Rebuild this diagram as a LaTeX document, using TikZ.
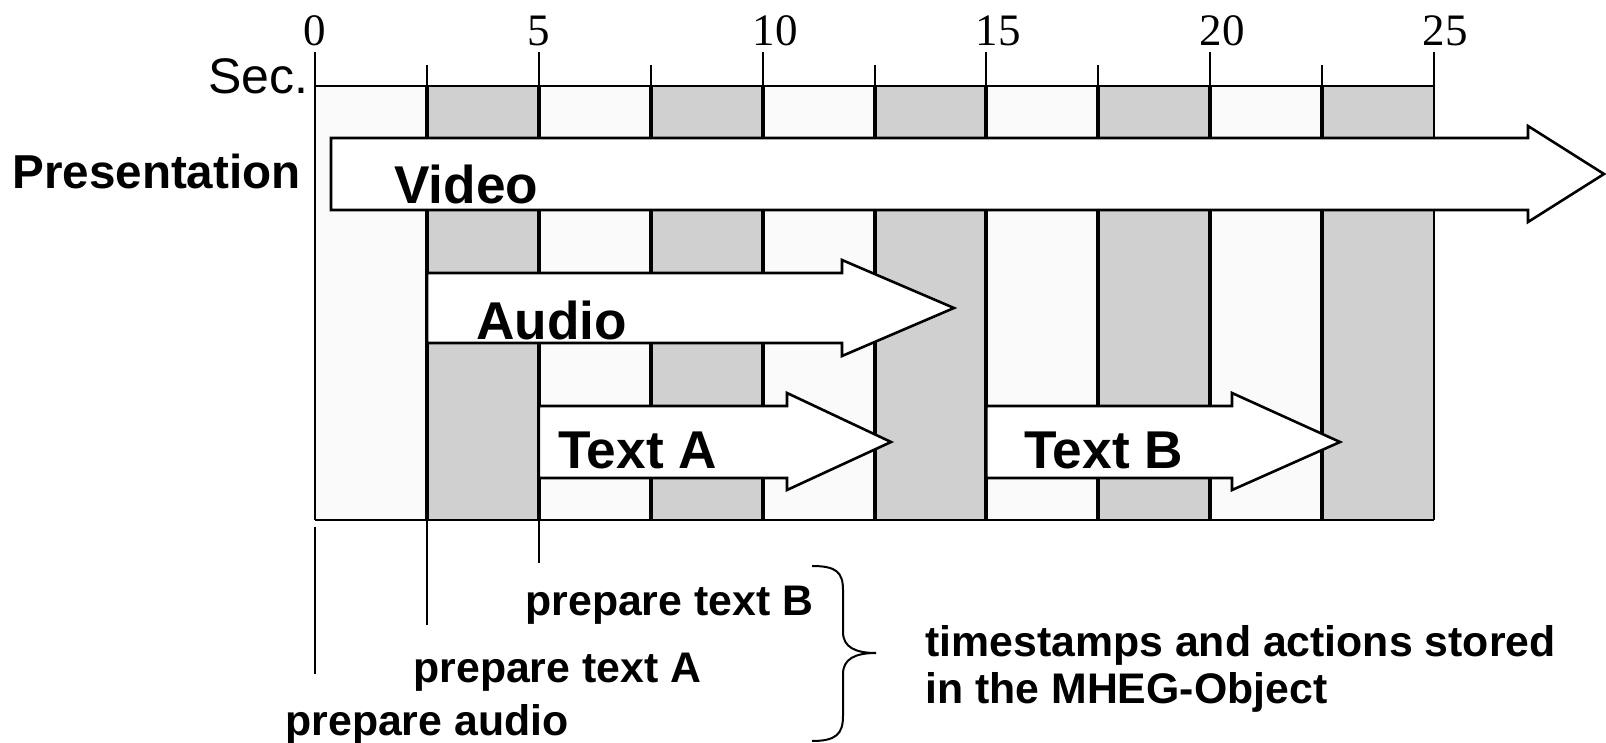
\documentclass[tikz,border=0pt]{standalone}
\usepackage{fontspec}
\setmainfont{Liberation Sans}
\newfontfamily\serifnum{Liberation Serif}
\definecolor{colLight}{RGB}{250,250,250}
\definecolor{colGrey}{RGB}{208,208,208}
\begin{document}
\begin{tikzpicture}[x=0.5pt,y=-0.5pt,
  thinline/.style={line width=1pt},
  colline/.style={line width=2pt},
  blockarrow/.style={draw, fill=white, line width=1.3pt, line join=miter},
  boldlabel/.style={font=\fontsize{21.4}{24}\selectfont\bfseries, inner sep=0pt, anchor=base west},
  biglabel/.style={font=\fontsize{26.6}{29}\selectfont\bfseries, inner sep=0pt, anchor=base west},
  ticklabel/.style={font=\serifnum\fontsize{22.5}{25}\selectfont, inner sep=0pt, anchor=base}]
\useasboundingbox (0,0) rectangle (1606,743);
% band
\fill[colLight] (315,86) rectangle (1434,520);
\foreach \i in {1,3,5,7,9}
  \fill[colGrey] ({315+111.9*\i},86) rectangle ({315+111.9*(\i+1)},520);
\draw[thinline] (315,86) -- (1434,86);
\draw[thinline] (315,520) -- (1434,520);
\draw[thinline] (1434,86) -- (1434,520);
\draw[thinline] (315,52) -- (315,520);
\foreach \i in {1,...,9}
  \draw[colline] ({315+111.9*\i},86) -- ({315+111.9*\i},520);
% ticks
\foreach \i in {1,3,5,7,9}
  \draw[thinline] ({315+111.9*\i},65) -- ({315+111.9*\i},86);
\foreach \i in {2,4,6,8}
  \draw[thinline] ({315+111.9*\i},52) -- ({315+111.9*\i},86);
\draw[thinline] (1434,52) -- (1434,100);
% tick labels
\node[ticklabel] (t0) at (315,46) {0};
\node[ticklabel] (t5) at (539,46) {5};
\node[ticklabel] (t10) at (775,46) {10};
\node[ticklabel] (t15) at (998,46) {15};
\node[ticklabel] (t20) at (1222,46) {20};
\node[ticklabel] (t25) at (1445,46) {25};
\node[font=\fontsize{25}{28}\selectfont, inner sep=0pt, anchor=base east] (sec) at (309,94) {Sec.};
\node[font=\fontsize{23.8}{27}\selectfont\bfseries, inner sep=0pt, anchor=base west] (pres) at (12,189) {Presentation};
% arrows
\draw[blockarrow] (331,138) -- (1528,138) -- (1528,126) -- (1604,174) -- (1528,222) -- (1528,210) -- (331,210) -- cycle;
\draw[blockarrow] (427,273) -- (842,273) -- (842,260) -- (954,308) -- (842,356) -- (842,343) -- (427,343) -- cycle;
\draw[blockarrow] (538.8,406) -- (787,406) -- (787,393) -- (891,442) -- (787,490) -- (787,478) -- (538.8,478) -- cycle;
\draw[blockarrow] (986.4,406) -- (1232,406) -- (1232,393) -- (1340,442) -- (1232,490) -- (1232,478) -- (986.4,478) -- cycle;
\node[biglabel] (video) at (394,204) {Video};
\node[biglabel] (audio) at (476,339) {Audio};
\node[biglabel] (texta) at (558,468) {Text A};
\node[biglabel] (textb) at (1024,468) {Text B};
% action markers
\coordinate (m0a) at (315,527); \coordinate (m0b) at (315,674);
\coordinate (m1a) at (427,520); \coordinate (m1b) at (427,625);
\coordinate (m2a) at (538.8,520); \coordinate (m2b) at (538.8,563);
\draw[thinline] (m0a) -- (m0b);
\draw[thinline] (m1a) -- (m1b);
\draw[thinline] (m2a) -- (m2b);
\node[boldlabel] (pb) at (525,615) {prepare text B};
\node[boldlabel] (pa) at (413,682) {prepare text A};
\node[boldlabel] (pau) at (285,735) {prepare audio};
% brace
\draw[thinline] (812,566) .. controls (836,566) and (843,572) .. (843,590) -- (843,632)
  .. controls (843,647) and (855,653) .. (876,653)
  .. controls (855,653) and (843,659) .. (843,674) -- (843,716)
  .. controls (843,734) and (836,741) .. (812,741);
\node[boldlabel] (ts1) at (925,656) {timestamps and actions stored};
\node[boldlabel] (ts2) at (925,703) {in the MHEG-Object};
\end{tikzpicture}
\end{document}
